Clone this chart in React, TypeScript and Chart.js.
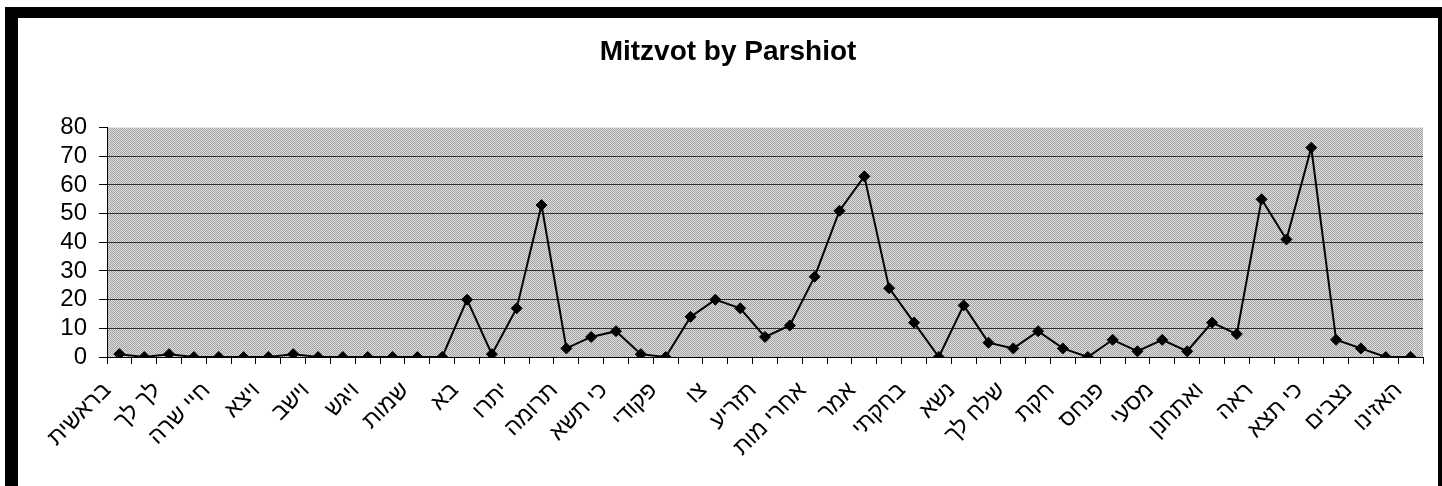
import React, { useEffect, useRef } from "react";
import { Chart, registerables } from "chart.js";

Chart.register(...registerables);

const parshiot: string[] = [
  "בראשית", "נח", "לך לך", "וירא", "חיי שרה", "תולדות", "ויצא", "וישלח", "וישב", "מקץ",
  "ויגש", "ויחי", "שמות", "וארא", "בא", "בשלח", "יתרו", "משפטים", "תרומה", "תצוה",
  "כי תשא", "ויקהל", "פקודי", "ויקרא", "צו", "שמיני", "תזריע", "מצורע", "אחרי מות", "קדושים",
  "אמר", "בהר", "בחקתי", "במדבר", "נשא", "בהעלתך", "שלח לך", "קרח", "חקת", "בלק",
  "פנחס", "מטות", "מסעי", "דברים", "ואתחנן", "עקב", "ראה", "שפטים", "כי תצא", "כי תבוא",
  "נצבים", "וילך", "האזינו",
];

const mitzvot: number[] = [
  1, 0, 1, 0, 0, 0, 0, 1, 0, 0,
  0, 0, 0, 0, 20, 1, 17, 53, 3, 7,
  9, 1, 0, 14, 20, 17, 7, 11, 28, 51,
  63, 24, 12, 0, 18, 5, 3, 9, 3, 0,
  6, 2, 6, 2, 12, 8, 55, 41, 73, 6,
  3, 0, 0,
];

const yMin = 0;
const yMax = 80;
const yStep = 10;

const FONT = "'Liberation Sans', Arial, 'DejaVu Sans', sans-serif";

function makePattern(): CanvasPattern | string {
  const c = document.createElement("canvas");
  c.width = 2;
  c.height = 2;
  const g = c.getContext("2d");
  if (!g) return "#c0c0c0";
  g.fillStyle = "#dedede";
  g.fillRect(0, 0, 2, 2);
  g.fillStyle = "#a2a2a2";
  g.fillRect(0, 0, 1, 1);
  g.fillRect(1, 1, 1, 1);
  const p = g.createPattern(c, "repeat");
  return p || "#c0c0c0";
}

export default function App() {
  const ref = useRef<HTMLCanvasElement | null>(null);

  useEffect(() => {
    if (!ref.current) return;
    const pattern = makePattern();
    const bgPlugin = {
      id: "plotBg",
      beforeDraw(chart: any) {
        const { ctx, chartArea } = chart;
        ctx.save();
        ctx.fillStyle = pattern;
        ctx.fillRect(chartArea.left, chartArea.top, chartArea.right - chartArea.left, chartArea.bottom - chartArea.top);
        ctx.restore();
      },
    };
    const chart = new Chart(ref.current, {
      type: "line",
      data: {
        labels: parshiot,
        datasets: [
          {
            label: "Mitzvot",
            data: mitzvot,
            borderColor: "#000",
            backgroundColor: "#000",
            borderWidth: 2,
            pointStyle: "rectRot",
            pointRadius: 5.5,
            pointBackgroundColor: "#000",
            pointBorderColor: "#000",
            pointBorderWidth: 1,
            tension: 0,
          },
        ],
      },
      options: {
        responsive: false,
        animation: false,
        layout: { padding: 0 },
        plugins: {
          legend: { display: false },
          tooltip: { enabled: false },
          title: {
            display: true,
            text: "Mitzvot by Parshiot",
            color: "#000",
            font: { family: FONT, size: 28, weight: "bold" },
            padding: { top: 17, bottom: 59 },
          },
        },
        scales: {
          x: {
            type: "category",
            offset: true,
            border: { display: true, color: "#000", width: 1 },
            grid: {
              offset: true,
              drawOnChartArea: false,
              drawTicks: true,
              tickLength: 7,
              tickColor: "#000",
            },
            ticks: {
              autoSkip: false,
              maxRotation: 45,
              minRotation: 45,
              color: "#000",
              padding: 13,
              labelOffset: -12,
              font: { family: FONT, size: 23 },
              callback: (_v: any, i: number) => (i % 2 === 0 ? parshiot[i] : ""),
            },
            afterFit: (scale: any) => {
              scale.height = 129;
              scale.paddingLeft = 0;
              scale.paddingRight = 15;
            },
          },
          y: {
            min: yMin,
            max: yMax,
            border: { display: true, color: "#000", width: 1 },
            grid: {
              color: (c: any) => (c.tick && c.tick.value === yMax ? "rgba(0,0,0,0)" : "#303030"),
              lineWidth: 1,
              drawTicks: true,
              tickLength: 8,
              tickColor: "#000",
            },
            ticks: {
              stepSize: yStep,
              autoSkip: false,
              color: "#000",
              padding: 12,
              font: { family: FONT, size: 24 },
            },
            afterFit: (scale: any) => {
              scale.width = 89;
            },
          },
        },
      },
      plugins: [bgPlugin],
    });
    return () => chart.destroy();
  }, []);

  return (
    <div>
      <div
        style={{
          position: "fixed",
          left: 5,
          top: 7,
          width: 1437,
          height: 520,
          boxSizing: "border-box",
          borderLeft: "13px solid #000",
          borderTop: "11px solid #000",
          borderRight: "4px solid #000",
          borderBottom: "13px solid #000",
          background: "#fff",
        }}
      />
      <canvas
        ref={ref}
        width={1420}
        height={468}
        style={{ position: "fixed", left: 18, top: 18, width: 1420, height: 468 }}
      />
    </div>
  );
}
